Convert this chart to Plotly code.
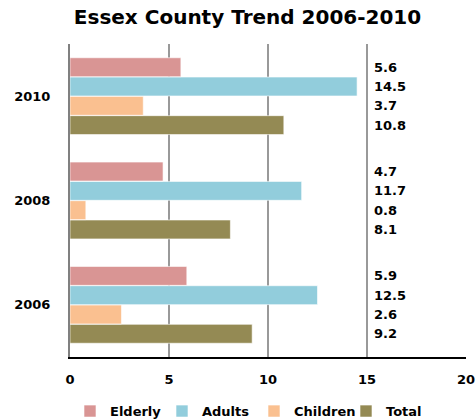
import plotly.graph_objects as go

years = ["2006", "2008", "2010"]
series = ["Elderly", "Adults", "Children", "Total"]
elderly = [5.9, 4.7, 5.6]
adults = [12.5, 11.7, 14.5]
children = [2.6, 0.8, 3.7]
total = [9.2, 8.1, 10.8]
x_ticks = [0, 5, 10, 15, 20]

values = {"Elderly": elderly, "Adults": adults, "Children": children, "Total": total}
colours = {"Elderly": "#D99594", "Adults": "#92CDDC", "Children": "#FAC090", "Total": "#948A54"}

FONT = "DejaVu Sans"
label_base = 15.2

fig = go.Figure()

# plotly stacks grouped bars bottom-up, so add Total first to get Elderly on top
for rank, name in reversed(list(enumerate(series))):
    fig.add_trace(go.Bar(
        y=years, x=values[name], name=name, orientation="h",
        offsetgroup=name, legendrank=rank + 1,
        marker=dict(color=colours[name], line=dict(color="white", width=0.6)),
    ))
    # value labels in a column right of the 15 gridline
    fig.add_trace(go.Bar(
        y=years, x=[3] * len(years), base=label_base, orientation="h",
        offsetgroup=name, showlegend=False, hoverinfo="skip",
        marker=dict(color="rgba(0,0,0,0)", line=dict(width=0)),
        text=[f"{v:.1f}" for v in values[name]],
        textposition="inside", insidetextanchor="start", constraintext="none",
        textfont=dict(family=FONT, size=13, color="black", weight="bold"),
    ))

fig.update_layout(
    width=476, height=419,
    barmode="group", bargap=0.26, bargroupgap=0.02,
    plot_bgcolor="white", paper_bgcolor="white",
    margin=dict(l=70, r=10, t=44, b=62, autoexpand=False),
    title=dict(text="Essex County Trend 2006-2010", x=0.52, xanchor="center",
               y=0.975, yanchor="top",
               font=dict(family=FONT, size=20, color="black", weight="bold")),
    font=dict(family=FONT, size=13, color="black", weight="bold"),
    legend=dict(orientation="h", x=0.0, xanchor="left", y=-0.125, yanchor="top",
                font=dict(family=FONT, size=13, weight="bold"),
                itemwidth=30, entrywidth=47, entrywidthmode="pixels"),
    xaxis=dict(range=[0, 20], tickvals=x_ticks, showgrid=True, gridcolor="#999999",
               gridwidth=1.5, zeroline=False, showline=True, linecolor="black",
               linewidth=2, ticks="", ticklabelstandoff=9, automargin=False,
               tickfont=dict(family=FONT, size=13, weight="bold")),
    yaxis=dict(showline=True, linecolor="#808080", linewidth=2, ticks="",
               ticklabelstandoff=15, automargin=False,
               tickfont=dict(family=FONT, size=13, weight="bold")),
)

# drop the browser's default body margin so the figure sits at the page corner
fig.write_html("out.html", config={"displayModeBar": False},
               post_script="document.body.style.margin='0';")
